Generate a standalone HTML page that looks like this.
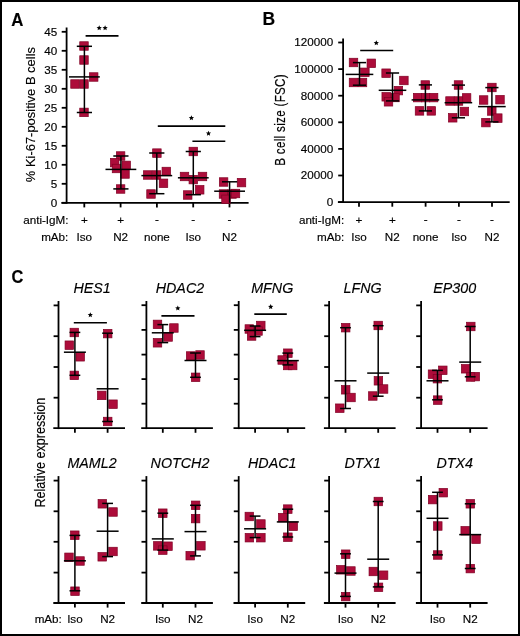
<!DOCTYPE html>
<html><head><meta charset="utf-8"><title>Figure</title>
<style>
html,body{margin:0;padding:0;background:#fff;}
body{width:520px;height:636px;overflow:hidden;}
.fig{position:relative;width:520px;height:636px;box-sizing:border-box;border:2px solid #000;background:#fff;}
svg{position:absolute;left:-2px;top:-2px;will-change:transform;}
text{font-family:"Liberation Sans", sans-serif;fill:#000;stroke:#000;stroke-width:0.15px;}
</style></head>
<body><div class="fig">
<svg width="520" height="636" viewBox="0 0 520 636">
<text transform="translate(11.20,25.50) scale(0.96,1.0)" font-size="17.5" text-anchor="start" font-weight="bold" font-style="normal">A</text>
<line x1="66.60" y1="27.50" x2="66.60" y2="203.70" stroke="#000" stroke-width="1.8"/>
<line x1="61.40" y1="202.80" x2="248.60" y2="202.80" stroke="#000" stroke-width="1.8"/>
<line x1="61.70" y1="202.80" x2="66.60" y2="202.80" stroke="#000" stroke-width="1.8"/>
<text transform="translate(57.20,206.60) scale(1.1,1.0)" font-size="10.6" text-anchor="end" font-weight="normal" font-style="normal">0</text>
<line x1="61.70" y1="183.80" x2="66.60" y2="183.80" stroke="#000" stroke-width="1.8"/>
<text transform="translate(57.20,187.60) scale(1.1,1.0)" font-size="10.6" text-anchor="end" font-weight="normal" font-style="normal">5</text>
<line x1="61.70" y1="164.80" x2="66.60" y2="164.80" stroke="#000" stroke-width="1.8"/>
<text transform="translate(57.20,168.60) scale(1.1,1.0)" font-size="10.6" text-anchor="end" font-weight="normal" font-style="normal">10</text>
<line x1="61.70" y1="145.80" x2="66.60" y2="145.80" stroke="#000" stroke-width="1.8"/>
<text transform="translate(57.20,149.60) scale(1.1,1.0)" font-size="10.6" text-anchor="end" font-weight="normal" font-style="normal">15</text>
<line x1="61.70" y1="126.80" x2="66.60" y2="126.80" stroke="#000" stroke-width="1.8"/>
<text transform="translate(57.20,130.60) scale(1.1,1.0)" font-size="10.6" text-anchor="end" font-weight="normal" font-style="normal">20</text>
<line x1="61.70" y1="107.80" x2="66.60" y2="107.80" stroke="#000" stroke-width="1.8"/>
<text transform="translate(57.20,111.60) scale(1.1,1.0)" font-size="10.6" text-anchor="end" font-weight="normal" font-style="normal">25</text>
<line x1="61.70" y1="88.80" x2="66.60" y2="88.80" stroke="#000" stroke-width="1.8"/>
<text transform="translate(57.20,92.60) scale(1.1,1.0)" font-size="10.6" text-anchor="end" font-weight="normal" font-style="normal">30</text>
<line x1="61.70" y1="69.80" x2="66.60" y2="69.80" stroke="#000" stroke-width="1.8"/>
<text transform="translate(57.20,73.60) scale(1.1,1.0)" font-size="10.6" text-anchor="end" font-weight="normal" font-style="normal">35</text>
<line x1="61.70" y1="50.80" x2="66.60" y2="50.80" stroke="#000" stroke-width="1.8"/>
<text transform="translate(57.20,54.60) scale(1.1,1.0)" font-size="10.6" text-anchor="end" font-weight="normal" font-style="normal">40</text>
<line x1="61.70" y1="31.80" x2="66.60" y2="31.80" stroke="#000" stroke-width="1.8"/>
<text transform="translate(57.20,35.60) scale(1.1,1.0)" font-size="10.6" text-anchor="end" font-weight="normal" font-style="normal">45</text>
<line x1="84.30" y1="202.80" x2="84.30" y2="207.40" stroke="#000" stroke-width="1.8"/>
<line x1="120.60" y1="202.80" x2="120.60" y2="207.40" stroke="#000" stroke-width="1.8"/>
<line x1="156.90" y1="202.80" x2="156.90" y2="207.40" stroke="#000" stroke-width="1.8"/>
<line x1="193.20" y1="202.80" x2="193.20" y2="207.40" stroke="#000" stroke-width="1.8"/>
<line x1="229.50" y1="202.80" x2="229.50" y2="207.40" stroke="#000" stroke-width="1.8"/>
<text transform="translate(34.90,114.60) rotate(-90) scale(1.0,1.0)" font-size="12.95" text-anchor="middle" font-weight="normal" font-style="normal">% Ki-67-positive B cells</text>
<text transform="translate(68.50,224.00) scale(1.1,1.0)" font-size="10.6" text-anchor="end" font-weight="normal" font-style="normal">anti-IgM:</text>
<text transform="translate(68.30,241.40) scale(1.1,1.0)" font-size="10.6" text-anchor="end" font-weight="normal" font-style="normal">mAb:</text>
<text transform="translate(84.30,224.00) scale(1.1,1.0)" font-size="10.6" text-anchor="middle" font-weight="normal" font-style="normal">+</text>
<text transform="translate(120.60,224.00) scale(1.1,1.0)" font-size="10.6" text-anchor="middle" font-weight="normal" font-style="normal">+</text>
<text transform="translate(156.90,222.80) scale(1.1,1.0)" font-size="10.6" text-anchor="middle" font-weight="normal" font-style="normal">-</text>
<text transform="translate(193.20,222.80) scale(1.1,1.0)" font-size="10.6" text-anchor="middle" font-weight="normal" font-style="normal">-</text>
<text transform="translate(229.50,222.80) scale(1.1,1.0)" font-size="10.6" text-anchor="middle" font-weight="normal" font-style="normal">-</text>
<text transform="translate(84.30,241.40) scale(1.1,1.0)" font-size="10.6" text-anchor="middle" font-weight="normal" font-style="normal">Iso</text>
<text transform="translate(120.60,241.40) scale(1.1,1.0)" font-size="10.6" text-anchor="middle" font-weight="normal" font-style="normal">N2</text>
<text transform="translate(156.90,241.40) scale(1.1,1.0)" font-size="10.6" text-anchor="middle" font-weight="normal" font-style="normal">none</text>
<text transform="translate(193.20,241.40) scale(1.1,1.0)" font-size="10.6" text-anchor="middle" font-weight="normal" font-style="normal">Iso</text>
<text transform="translate(229.50,241.40) scale(1.1,1.0)" font-size="10.6" text-anchor="middle" font-weight="normal" font-style="normal">N2</text>
<rect x="79.75" y="41.75" width="8.5" height="8.5" fill="#ad0c3a" stroke="#800024" stroke-width="0.7"/>
<rect x="79.75" y="55.75" width="8.5" height="8.5" fill="#ad0c3a" stroke="#800024" stroke-width="0.7"/>
<rect x="89.45" y="72.75" width="8.5" height="8.5" fill="#ad0c3a" stroke="#800024" stroke-width="0.7"/>
<rect x="70.75" y="79.75" width="8.5" height="8.5" fill="#ad0c3a" stroke="#800024" stroke-width="0.7"/>
<rect x="79.75" y="79.75" width="8.5" height="8.5" fill="#ad0c3a" stroke="#800024" stroke-width="0.7"/>
<rect x="79.75" y="108.15" width="8.5" height="8.5" fill="#ad0c3a" stroke="#800024" stroke-width="0.7"/>
<line x1="84.40" y1="46.30" x2="84.40" y2="112.50" stroke="#000" stroke-width="1.5"/>
<line x1="76.80" y1="46.30" x2="92.00" y2="46.30" stroke="#000" stroke-width="1.5"/>
<line x1="76.80" y1="112.50" x2="92.00" y2="112.50" stroke="#000" stroke-width="1.5"/>
<line x1="69.00" y1="76.90" x2="99.80" y2="76.90" stroke="#000" stroke-width="1.5"/>
<rect x="116.35" y="151.75" width="8.5" height="8.5" fill="#ad0c3a" stroke="#800024" stroke-width="0.7"/>
<rect x="110.45" y="158.35" width="8.5" height="8.5" fill="#ad0c3a" stroke="#800024" stroke-width="0.7"/>
<rect x="121.95" y="161.15" width="8.5" height="8.5" fill="#ad0c3a" stroke="#800024" stroke-width="0.7"/>
<rect x="112.25" y="164.25" width="8.5" height="8.5" fill="#ad0c3a" stroke="#800024" stroke-width="0.7"/>
<rect x="120.75" y="169.75" width="8.5" height="8.5" fill="#ad0c3a" stroke="#800024" stroke-width="0.7"/>
<rect x="116.35" y="184.75" width="8.5" height="8.5" fill="#ad0c3a" stroke="#800024" stroke-width="0.7"/>
<line x1="120.90" y1="156.00" x2="120.90" y2="188.90" stroke="#000" stroke-width="1.5"/>
<line x1="113.30" y1="156.00" x2="128.50" y2="156.00" stroke="#000" stroke-width="1.5"/>
<line x1="113.30" y1="188.90" x2="128.50" y2="188.90" stroke="#000" stroke-width="1.5"/>
<line x1="105.50" y1="169.40" x2="136.30" y2="169.40" stroke="#000" stroke-width="1.5"/>
<rect x="152.65" y="148.85" width="8.5" height="8.5" fill="#ad0c3a" stroke="#800024" stroke-width="0.7"/>
<rect x="162.05" y="167.25" width="8.5" height="8.5" fill="#ad0c3a" stroke="#800024" stroke-width="0.7"/>
<rect x="143.45" y="170.75" width="8.5" height="8.5" fill="#ad0c3a" stroke="#800024" stroke-width="0.7"/>
<rect x="152.25" y="170.75" width="8.5" height="8.5" fill="#ad0c3a" stroke="#800024" stroke-width="0.7"/>
<rect x="159.25" y="179.05" width="8.5" height="8.5" fill="#ad0c3a" stroke="#800024" stroke-width="0.7"/>
<rect x="146.75" y="189.75" width="8.5" height="8.5" fill="#ad0c3a" stroke="#800024" stroke-width="0.7"/>
<line x1="156.80" y1="153.00" x2="156.80" y2="193.70" stroke="#000" stroke-width="1.5"/>
<line x1="149.20" y1="153.00" x2="164.40" y2="153.00" stroke="#000" stroke-width="1.5"/>
<line x1="149.20" y1="193.70" x2="164.40" y2="193.70" stroke="#000" stroke-width="1.5"/>
<line x1="141.40" y1="175.60" x2="172.20" y2="175.60" stroke="#000" stroke-width="1.5"/>
<rect x="189.05" y="147.25" width="8.5" height="8.5" fill="#ad0c3a" stroke="#800024" stroke-width="0.7"/>
<rect x="180.25" y="172.25" width="8.5" height="8.5" fill="#ad0c3a" stroke="#800024" stroke-width="0.7"/>
<rect x="198.25" y="172.25" width="8.5" height="8.5" fill="#ad0c3a" stroke="#800024" stroke-width="0.7"/>
<rect x="189.05" y="175.35" width="8.5" height="8.5" fill="#ad0c3a" stroke="#800024" stroke-width="0.7"/>
<rect x="195.45" y="185.55" width="8.5" height="8.5" fill="#ad0c3a" stroke="#800024" stroke-width="0.7"/>
<rect x="183.45" y="190.75" width="8.5" height="8.5" fill="#ad0c3a" stroke="#800024" stroke-width="0.7"/>
<line x1="193.30" y1="151.50" x2="193.30" y2="194.70" stroke="#000" stroke-width="1.5"/>
<line x1="185.70" y1="151.50" x2="200.90" y2="151.50" stroke="#000" stroke-width="1.5"/>
<line x1="185.70" y1="194.70" x2="200.90" y2="194.70" stroke="#000" stroke-width="1.5"/>
<line x1="177.90" y1="177.80" x2="208.70" y2="177.80" stroke="#000" stroke-width="1.5"/>
<rect x="219.35" y="177.75" width="8.5" height="8.5" fill="#ad0c3a" stroke="#800024" stroke-width="0.7"/>
<rect x="237.25" y="178.35" width="8.5" height="8.5" fill="#ad0c3a" stroke="#800024" stroke-width="0.7"/>
<rect x="219.25" y="189.75" width="8.5" height="8.5" fill="#ad0c3a" stroke="#800024" stroke-width="0.7"/>
<rect x="227.75" y="189.75" width="8.5" height="8.5" fill="#ad0c3a" stroke="#800024" stroke-width="0.7"/>
<rect x="231.25" y="189.25" width="8.5" height="8.5" fill="#ad0c3a" stroke="#800024" stroke-width="0.7"/>
<rect x="221.75" y="195.05" width="8.5" height="8.5" fill="#ad0c3a" stroke="#800024" stroke-width="0.7"/>
<line x1="229.60" y1="181.80" x2="229.60" y2="202.80" stroke="#000" stroke-width="1.5"/>
<line x1="222.00" y1="181.80" x2="237.20" y2="181.80" stroke="#000" stroke-width="1.5"/>
<line x1="214.20" y1="191.20" x2="245.00" y2="191.20" stroke="#000" stroke-width="1.5"/>
<line x1="85.60" y1="35.90" x2="118.50" y2="35.90" stroke="#000" stroke-width="1.6"/>
<polygon points="99.20,25.31 99.94,27.04 101.82,27.21 100.40,28.45 100.82,30.29 99.20,29.33 97.58,30.29 98.00,28.45 96.58,27.21 98.46,27.04" fill="#000"/>
<polygon points="105.10,25.31 105.84,27.04 107.72,27.21 106.30,28.45 106.72,30.29 105.10,29.33 103.48,30.29 103.90,28.45 102.48,27.21 104.36,27.04" fill="#000"/>
<line x1="157.80" y1="126.10" x2="225.30" y2="126.10" stroke="#000" stroke-width="1.6"/>
<polygon points="191.40,115.31 192.14,117.04 194.02,117.21 192.60,118.45 193.02,120.29 191.40,119.33 189.78,120.29 190.20,118.45 188.78,117.21 190.66,117.04" fill="#000"/>
<line x1="192.40" y1="141.30" x2="225.30" y2="141.30" stroke="#000" stroke-width="1.6"/>
<polygon points="208.50,130.71 209.24,132.44 211.12,132.61 209.70,133.85 210.12,135.69 208.50,134.73 206.88,135.69 207.30,133.85 205.88,132.61 207.76,132.44" fill="#000"/>
<text transform="translate(262.50,25.30) scale(1.0,1.0)" font-size="17.5" text-anchor="start" font-weight="bold" font-style="normal">B</text>
<line x1="343.10" y1="38.50" x2="343.10" y2="203.00" stroke="#000" stroke-width="1.8"/>
<line x1="337.90" y1="202.10" x2="509.70" y2="202.10" stroke="#000" stroke-width="1.8"/>
<line x1="338.20" y1="202.10" x2="343.10" y2="202.10" stroke="#000" stroke-width="1.8"/>
<text transform="translate(333.20,205.90) scale(1.1,1.0)" font-size="10.6" text-anchor="end" font-weight="normal" font-style="normal">0</text>
<line x1="338.20" y1="175.50" x2="343.10" y2="175.50" stroke="#000" stroke-width="1.8"/>
<text transform="translate(333.20,179.30) scale(1.1,1.0)" font-size="10.6" text-anchor="end" font-weight="normal" font-style="normal">20000</text>
<line x1="338.20" y1="148.90" x2="343.10" y2="148.90" stroke="#000" stroke-width="1.8"/>
<text transform="translate(333.20,152.70) scale(1.1,1.0)" font-size="10.6" text-anchor="end" font-weight="normal" font-style="normal">40000</text>
<line x1="338.20" y1="122.30" x2="343.10" y2="122.30" stroke="#000" stroke-width="1.8"/>
<text transform="translate(333.20,126.10) scale(1.1,1.0)" font-size="10.6" text-anchor="end" font-weight="normal" font-style="normal">60000</text>
<line x1="338.20" y1="95.70" x2="343.10" y2="95.70" stroke="#000" stroke-width="1.8"/>
<text transform="translate(333.20,99.50) scale(1.1,1.0)" font-size="10.6" text-anchor="end" font-weight="normal" font-style="normal">80000</text>
<line x1="338.20" y1="69.10" x2="343.10" y2="69.10" stroke="#000" stroke-width="1.8"/>
<text transform="translate(333.20,72.90) scale(1.1,1.0)" font-size="10.6" text-anchor="end" font-weight="normal" font-style="normal">100000</text>
<line x1="338.20" y1="42.50" x2="343.10" y2="42.50" stroke="#000" stroke-width="1.8"/>
<text transform="translate(333.20,46.30) scale(1.1,1.0)" font-size="10.6" text-anchor="end" font-weight="normal" font-style="normal">120000</text>
<line x1="359.00" y1="202.10" x2="359.00" y2="206.70" stroke="#000" stroke-width="1.8"/>
<line x1="392.30" y1="202.10" x2="392.30" y2="206.70" stroke="#000" stroke-width="1.8"/>
<line x1="425.60" y1="202.10" x2="425.60" y2="206.70" stroke="#000" stroke-width="1.8"/>
<line x1="458.90" y1="202.10" x2="458.90" y2="206.70" stroke="#000" stroke-width="1.8"/>
<line x1="492.00" y1="202.10" x2="492.00" y2="206.70" stroke="#000" stroke-width="1.8"/>
<text transform="translate(285.00,119.90) rotate(-90) scale(1.0,1.25)" font-size="11.6" text-anchor="middle" font-weight="normal" font-style="normal" letter-spacing="0.32">B cell size (FSC)</text>
<text transform="translate(344.20,224.00) scale(1.1,1.0)" font-size="10.6" text-anchor="end" font-weight="normal" font-style="normal">anti-IgM:</text>
<text transform="translate(344.20,241.40) scale(1.1,1.0)" font-size="10.6" text-anchor="end" font-weight="normal" font-style="normal">mAb:</text>
<text transform="translate(359.00,224.00) scale(1.1,1.0)" font-size="10.6" text-anchor="middle" font-weight="normal" font-style="normal">+</text>
<text transform="translate(392.30,224.00) scale(1.1,1.0)" font-size="10.6" text-anchor="middle" font-weight="normal" font-style="normal">+</text>
<text transform="translate(425.60,222.80) scale(1.1,1.0)" font-size="10.6" text-anchor="middle" font-weight="normal" font-style="normal">-</text>
<text transform="translate(458.90,222.80) scale(1.1,1.0)" font-size="10.6" text-anchor="middle" font-weight="normal" font-style="normal">-</text>
<text transform="translate(492.00,222.80) scale(1.1,1.0)" font-size="10.6" text-anchor="middle" font-weight="normal" font-style="normal">-</text>
<text transform="translate(359.00,241.40) scale(1.1,1.0)" font-size="10.6" text-anchor="middle" font-weight="normal" font-style="normal">Iso</text>
<text transform="translate(392.30,241.40) scale(1.1,1.0)" font-size="10.6" text-anchor="middle" font-weight="normal" font-style="normal">N2</text>
<text transform="translate(425.60,241.40) scale(1.1,1.0)" font-size="10.6" text-anchor="middle" font-weight="normal" font-style="normal">none</text>
<text transform="translate(458.90,241.40) scale(1.1,1.0)" font-size="10.6" text-anchor="middle" font-weight="normal" font-style="normal">Iso</text>
<text transform="translate(492.00,241.40) scale(1.1,1.0)" font-size="10.6" text-anchor="middle" font-weight="normal" font-style="normal">N2</text>
<rect x="349.25" y="58.25" width="8.5" height="8.5" fill="#ad0c3a" stroke="#800024" stroke-width="0.7"/>
<rect x="367.05" y="59.05" width="8.5" height="8.5" fill="#ad0c3a" stroke="#800024" stroke-width="0.7"/>
<rect x="360.65" y="68.05" width="8.5" height="8.5" fill="#ad0c3a" stroke="#800024" stroke-width="0.7"/>
<rect x="349.25" y="78.25" width="8.5" height="8.5" fill="#ad0c3a" stroke="#800024" stroke-width="0.7"/>
<rect x="358.25" y="78.25" width="8.5" height="8.5" fill="#ad0c3a" stroke="#800024" stroke-width="0.7"/>
<line x1="359.50" y1="62.60" x2="359.50" y2="85.20" stroke="#000" stroke-width="1.5"/>
<line x1="352.90" y1="62.60" x2="366.10" y2="62.60" stroke="#000" stroke-width="1.5"/>
<line x1="352.90" y1="85.20" x2="366.10" y2="85.20" stroke="#000" stroke-width="1.5"/>
<line x1="345.70" y1="74.40" x2="373.30" y2="74.40" stroke="#000" stroke-width="1.5"/>
<rect x="381.85" y="68.95" width="8.5" height="8.5" fill="#ad0c3a" stroke="#800024" stroke-width="0.7"/>
<rect x="399.65" y="76.25" width="8.5" height="8.5" fill="#ad0c3a" stroke="#800024" stroke-width="0.7"/>
<rect x="394.15" y="86.35" width="8.5" height="8.5" fill="#ad0c3a" stroke="#800024" stroke-width="0.7"/>
<rect x="381.95" y="92.55" width="8.5" height="8.5" fill="#ad0c3a" stroke="#800024" stroke-width="0.7"/>
<rect x="390.75" y="93.25" width="8.5" height="8.5" fill="#ad0c3a" stroke="#800024" stroke-width="0.7"/>
<rect x="384.25" y="97.55" width="8.5" height="8.5" fill="#ad0c3a" stroke="#800024" stroke-width="0.7"/>
<line x1="392.50" y1="73.00" x2="392.50" y2="100.90" stroke="#000" stroke-width="1.5"/>
<line x1="385.90" y1="73.00" x2="399.10" y2="73.00" stroke="#000" stroke-width="1.5"/>
<line x1="385.90" y1="100.90" x2="399.10" y2="100.90" stroke="#000" stroke-width="1.5"/>
<line x1="378.70" y1="90.30" x2="406.30" y2="90.30" stroke="#000" stroke-width="1.5"/>
<rect x="421.05" y="80.75" width="8.5" height="8.5" fill="#ad0c3a" stroke="#800024" stroke-width="0.7"/>
<rect x="413.35" y="93.35" width="8.5" height="8.5" fill="#ad0c3a" stroke="#800024" stroke-width="0.7"/>
<rect x="421.35" y="93.35" width="8.5" height="8.5" fill="#ad0c3a" stroke="#800024" stroke-width="0.7"/>
<rect x="429.35" y="93.35" width="8.5" height="8.5" fill="#ad0c3a" stroke="#800024" stroke-width="0.7"/>
<rect x="415.25" y="106.65" width="8.5" height="8.5" fill="#ad0c3a" stroke="#800024" stroke-width="0.7"/>
<rect x="427.05" y="106.65" width="8.5" height="8.5" fill="#ad0c3a" stroke="#800024" stroke-width="0.7"/>
<line x1="425.40" y1="84.90" x2="425.40" y2="110.90" stroke="#000" stroke-width="1.5"/>
<line x1="418.80" y1="84.90" x2="432.00" y2="84.90" stroke="#000" stroke-width="1.5"/>
<line x1="418.80" y1="110.90" x2="432.00" y2="110.90" stroke="#000" stroke-width="1.5"/>
<line x1="411.60" y1="99.90" x2="439.20" y2="99.90" stroke="#000" stroke-width="1.5"/>
<rect x="454.25" y="80.75" width="8.5" height="8.5" fill="#ad0c3a" stroke="#800024" stroke-width="0.7"/>
<rect x="462.35" y="93.65" width="8.5" height="8.5" fill="#ad0c3a" stroke="#800024" stroke-width="0.7"/>
<rect x="445.75" y="96.75" width="8.5" height="8.5" fill="#ad0c3a" stroke="#800024" stroke-width="0.7"/>
<rect x="454.25" y="96.75" width="8.5" height="8.5" fill="#ad0c3a" stroke="#800024" stroke-width="0.7"/>
<rect x="460.15" y="107.25" width="8.5" height="8.5" fill="#ad0c3a" stroke="#800024" stroke-width="0.7"/>
<rect x="448.45" y="113.55" width="8.5" height="8.5" fill="#ad0c3a" stroke="#800024" stroke-width="0.7"/>
<line x1="458.40" y1="85.10" x2="458.40" y2="117.80" stroke="#000" stroke-width="1.5"/>
<line x1="451.80" y1="85.10" x2="465.00" y2="85.10" stroke="#000" stroke-width="1.5"/>
<line x1="451.80" y1="117.80" x2="465.00" y2="117.80" stroke="#000" stroke-width="1.5"/>
<line x1="444.60" y1="102.70" x2="472.20" y2="102.70" stroke="#000" stroke-width="1.5"/>
<rect x="487.65" y="83.25" width="8.5" height="8.5" fill="#ad0c3a" stroke="#800024" stroke-width="0.7"/>
<rect x="479.35" y="95.75" width="8.5" height="8.5" fill="#ad0c3a" stroke="#800024" stroke-width="0.7"/>
<rect x="495.75" y="95.45" width="8.5" height="8.5" fill="#ad0c3a" stroke="#800024" stroke-width="0.7"/>
<rect x="487.55" y="106.75" width="8.5" height="8.5" fill="#ad0c3a" stroke="#800024" stroke-width="0.7"/>
<rect x="493.55" y="113.85" width="8.5" height="8.5" fill="#ad0c3a" stroke="#800024" stroke-width="0.7"/>
<rect x="481.65" y="118.35" width="8.5" height="8.5" fill="#ad0c3a" stroke="#800024" stroke-width="0.7"/>
<line x1="491.90" y1="87.60" x2="491.90" y2="121.90" stroke="#000" stroke-width="1.5"/>
<line x1="485.30" y1="87.60" x2="498.50" y2="87.60" stroke="#000" stroke-width="1.5"/>
<line x1="485.30" y1="121.90" x2="498.50" y2="121.90" stroke="#000" stroke-width="1.5"/>
<line x1="478.10" y1="106.60" x2="505.70" y2="106.60" stroke="#000" stroke-width="1.5"/>
<line x1="360.20" y1="50.50" x2="393.20" y2="50.50" stroke="#000" stroke-width="1.6"/>
<polygon points="376.30,40.31 377.04,42.04 378.92,42.21 377.50,43.45 377.92,45.29 376.30,44.33 374.68,45.29 375.10,43.45 373.68,42.21 375.56,42.04" fill="#000"/>
<text transform="translate(11.50,283.40) scale(0.9,1.0)" font-size="18.2" text-anchor="start" font-weight="bold" font-style="normal">C</text>
<text transform="translate(45.30,452.60) rotate(-90) scale(1.0,1.1)" font-size="12.6" text-anchor="middle" font-weight="normal" font-style="normal">Relative expression</text>
<line x1="58.50" y1="301.00" x2="58.50" y2="429.10" stroke="#000" stroke-width="1.8"/>
<line x1="53.30" y1="428.20" x2="125.00" y2="428.20" stroke="#000" stroke-width="1.8"/>
<line x1="53.60" y1="305.40" x2="58.50" y2="305.40" stroke="#000" stroke-width="1.8"/>
<line x1="53.60" y1="336.20" x2="58.50" y2="336.20" stroke="#000" stroke-width="1.8"/>
<line x1="53.60" y1="367.00" x2="58.50" y2="367.00" stroke="#000" stroke-width="1.8"/>
<line x1="53.60" y1="397.70" x2="58.50" y2="397.70" stroke="#000" stroke-width="1.8"/>
<line x1="74.90" y1="428.20" x2="74.90" y2="432.80" stroke="#000" stroke-width="1.8"/>
<line x1="107.60" y1="428.20" x2="107.60" y2="432.80" stroke="#000" stroke-width="1.8"/>
<text transform="translate(92.05,293.00) scale(1.0,1.0)" font-size="14.3" text-anchor="middle" font-weight="normal" font-style="italic">HES1</text>
<rect x="70.05" y="328.25" width="8.5" height="8.5" fill="#ad0c3a" stroke="#800024" stroke-width="0.7"/>
<rect x="65.05" y="340.95" width="8.5" height="8.5" fill="#ad0c3a" stroke="#800024" stroke-width="0.7"/>
<rect x="75.95" y="352.55" width="8.5" height="8.5" fill="#ad0c3a" stroke="#800024" stroke-width="0.7"/>
<rect x="70.05" y="371.15" width="8.5" height="8.5" fill="#ad0c3a" stroke="#800024" stroke-width="0.7"/>
<rect x="103.45" y="329.35" width="8.5" height="8.5" fill="#ad0c3a" stroke="#800024" stroke-width="0.7"/>
<rect x="97.55" y="391.15" width="8.5" height="8.5" fill="#ad0c3a" stroke="#800024" stroke-width="0.7"/>
<rect x="108.75" y="399.95" width="8.5" height="8.5" fill="#ad0c3a" stroke="#800024" stroke-width="0.7"/>
<rect x="103.45" y="417.25" width="8.5" height="8.5" fill="#ad0c3a" stroke="#800024" stroke-width="0.7"/>
<line x1="74.90" y1="332.40" x2="74.90" y2="375.30" stroke="#000" stroke-width="1.5"/>
<line x1="69.50" y1="332.40" x2="80.30" y2="332.40" stroke="#000" stroke-width="1.5"/>
<line x1="69.50" y1="375.30" x2="80.30" y2="375.30" stroke="#000" stroke-width="1.5"/>
<line x1="63.90" y1="352.20" x2="85.90" y2="352.20" stroke="#000" stroke-width="1.5"/>
<line x1="107.60" y1="333.20" x2="107.60" y2="421.50" stroke="#000" stroke-width="1.5"/>
<line x1="102.20" y1="333.20" x2="113.00" y2="333.20" stroke="#000" stroke-width="1.5"/>
<line x1="102.20" y1="421.50" x2="113.00" y2="421.50" stroke="#000" stroke-width="1.5"/>
<line x1="96.60" y1="388.80" x2="118.60" y2="388.80" stroke="#000" stroke-width="1.5"/>
<line x1="73.80" y1="322.70" x2="106.90" y2="322.70" stroke="#000" stroke-width="1.6"/>
<polygon points="90.30,312.21 91.04,313.94 92.92,314.11 91.50,315.35 91.92,317.19 90.30,316.23 88.68,317.19 89.10,315.35 87.68,314.11 89.56,313.94" fill="#000"/>
<line x1="146.40" y1="301.00" x2="146.40" y2="429.10" stroke="#000" stroke-width="1.8"/>
<line x1="141.20" y1="428.20" x2="212.90" y2="428.20" stroke="#000" stroke-width="1.8"/>
<line x1="141.50" y1="305.20" x2="146.40" y2="305.20" stroke="#000" stroke-width="1.8"/>
<line x1="141.50" y1="329.90" x2="146.40" y2="329.90" stroke="#000" stroke-width="1.8"/>
<line x1="141.50" y1="354.60" x2="146.40" y2="354.60" stroke="#000" stroke-width="1.8"/>
<line x1="141.50" y1="379.10" x2="146.40" y2="379.10" stroke="#000" stroke-width="1.8"/>
<line x1="141.50" y1="403.70" x2="146.40" y2="403.70" stroke="#000" stroke-width="1.8"/>
<line x1="162.80" y1="428.20" x2="162.80" y2="432.80" stroke="#000" stroke-width="1.8"/>
<line x1="195.50" y1="428.20" x2="195.50" y2="432.80" stroke="#000" stroke-width="1.8"/>
<text transform="translate(179.95,293.00) scale(1.0,1.0)" font-size="14.3" text-anchor="middle" font-weight="normal" font-style="italic">HDAC2</text>
<rect x="153.25" y="320.15" width="8.5" height="8.5" fill="#ad0c3a" stroke="#800024" stroke-width="0.7"/>
<rect x="169.65" y="323.75" width="8.5" height="8.5" fill="#ad0c3a" stroke="#800024" stroke-width="0.7"/>
<rect x="163.85" y="332.75" width="8.5" height="8.5" fill="#ad0c3a" stroke="#800024" stroke-width="0.7"/>
<rect x="153.25" y="338.55" width="8.5" height="8.5" fill="#ad0c3a" stroke="#800024" stroke-width="0.7"/>
<rect x="186.35" y="351.75" width="8.5" height="8.5" fill="#ad0c3a" stroke="#800024" stroke-width="0.7"/>
<rect x="195.75" y="350.75" width="8.5" height="8.5" fill="#ad0c3a" stroke="#800024" stroke-width="0.7"/>
<rect x="191.35" y="373.05" width="8.5" height="8.5" fill="#ad0c3a" stroke="#800024" stroke-width="0.7"/>
<line x1="162.80" y1="324.60" x2="162.80" y2="342.60" stroke="#000" stroke-width="1.5"/>
<line x1="157.40" y1="324.60" x2="168.20" y2="324.60" stroke="#000" stroke-width="1.5"/>
<line x1="157.40" y1="342.60" x2="168.20" y2="342.60" stroke="#000" stroke-width="1.5"/>
<line x1="151.80" y1="332.80" x2="173.80" y2="332.80" stroke="#000" stroke-width="1.5"/>
<line x1="195.50" y1="353.00" x2="195.50" y2="377.30" stroke="#000" stroke-width="1.5"/>
<line x1="190.10" y1="353.00" x2="200.90" y2="353.00" stroke="#000" stroke-width="1.5"/>
<line x1="190.10" y1="377.30" x2="200.90" y2="377.30" stroke="#000" stroke-width="1.5"/>
<line x1="184.50" y1="360.50" x2="206.50" y2="360.50" stroke="#000" stroke-width="1.5"/>
<line x1="161.40" y1="315.90" x2="194.50" y2="315.90" stroke="#000" stroke-width="1.6"/>
<polygon points="177.80,305.51 178.54,307.24 180.42,307.41 179.00,308.65 179.42,310.49 177.80,309.53 176.18,310.49 176.60,308.65 175.18,307.41 177.06,307.24" fill="#000"/>
<line x1="238.70" y1="301.00" x2="238.70" y2="429.10" stroke="#000" stroke-width="1.8"/>
<line x1="233.50" y1="428.20" x2="305.20" y2="428.20" stroke="#000" stroke-width="1.8"/>
<line x1="233.80" y1="305.20" x2="238.70" y2="305.20" stroke="#000" stroke-width="1.8"/>
<line x1="233.80" y1="329.90" x2="238.70" y2="329.90" stroke="#000" stroke-width="1.8"/>
<line x1="233.80" y1="354.60" x2="238.70" y2="354.60" stroke="#000" stroke-width="1.8"/>
<line x1="233.80" y1="379.10" x2="238.70" y2="379.10" stroke="#000" stroke-width="1.8"/>
<line x1="233.80" y1="403.70" x2="238.70" y2="403.70" stroke="#000" stroke-width="1.8"/>
<line x1="255.10" y1="428.20" x2="255.10" y2="432.80" stroke="#000" stroke-width="1.8"/>
<line x1="287.80" y1="428.20" x2="287.80" y2="432.80" stroke="#000" stroke-width="1.8"/>
<text transform="translate(272.25,293.00) scale(1.0,1.0)" font-size="14.3" text-anchor="middle" font-weight="normal" font-style="italic">MFNG</text>
<rect x="256.55" y="321.25" width="8.5" height="8.5" fill="#ad0c3a" stroke="#800024" stroke-width="0.7"/>
<rect x="253.75" y="326.75" width="8.5" height="8.5" fill="#ad0c3a" stroke="#800024" stroke-width="0.7"/>
<rect x="245.05" y="324.75" width="8.5" height="8.5" fill="#ad0c3a" stroke="#800024" stroke-width="0.7"/>
<rect x="247.35" y="331.75" width="8.5" height="8.5" fill="#ad0c3a" stroke="#800024" stroke-width="0.7"/>
<rect x="283.65" y="348.95" width="8.5" height="8.5" fill="#ad0c3a" stroke="#800024" stroke-width="0.7"/>
<rect x="277.95" y="355.75" width="8.5" height="8.5" fill="#ad0c3a" stroke="#800024" stroke-width="0.7"/>
<rect x="283.45" y="361.25" width="8.5" height="8.5" fill="#ad0c3a" stroke="#800024" stroke-width="0.7"/>
<rect x="288.45" y="361.25" width="8.5" height="8.5" fill="#ad0c3a" stroke="#800024" stroke-width="0.7"/>
<line x1="255.10" y1="326.00" x2="255.10" y2="336.60" stroke="#000" stroke-width="1.5"/>
<line x1="249.70" y1="326.00" x2="260.50" y2="326.00" stroke="#000" stroke-width="1.5"/>
<line x1="249.70" y1="336.60" x2="260.50" y2="336.60" stroke="#000" stroke-width="1.5"/>
<line x1="244.10" y1="330.30" x2="266.10" y2="330.30" stroke="#000" stroke-width="1.5"/>
<line x1="287.80" y1="353.10" x2="287.80" y2="364.90" stroke="#000" stroke-width="1.5"/>
<line x1="282.40" y1="353.10" x2="293.20" y2="353.10" stroke="#000" stroke-width="1.5"/>
<line x1="282.40" y1="364.90" x2="293.20" y2="364.90" stroke="#000" stroke-width="1.5"/>
<line x1="276.80" y1="360.60" x2="298.80" y2="360.60" stroke="#000" stroke-width="1.5"/>
<line x1="254.30" y1="314.10" x2="286.80" y2="314.10" stroke="#000" stroke-width="1.6"/>
<polygon points="270.70,304.11 271.44,305.84 273.32,306.01 271.90,307.25 272.32,309.09 270.70,308.13 269.08,309.09 269.50,307.25 268.08,306.01 269.96,305.84" fill="#000"/>
<line x1="329.10" y1="301.00" x2="329.10" y2="429.10" stroke="#000" stroke-width="1.8"/>
<line x1="323.90" y1="428.20" x2="395.60" y2="428.20" stroke="#000" stroke-width="1.8"/>
<line x1="324.20" y1="305.40" x2="329.10" y2="305.40" stroke="#000" stroke-width="1.8"/>
<line x1="324.20" y1="336.20" x2="329.10" y2="336.20" stroke="#000" stroke-width="1.8"/>
<line x1="324.20" y1="367.00" x2="329.10" y2="367.00" stroke="#000" stroke-width="1.8"/>
<line x1="324.20" y1="397.70" x2="329.10" y2="397.70" stroke="#000" stroke-width="1.8"/>
<line x1="345.50" y1="428.20" x2="345.50" y2="432.80" stroke="#000" stroke-width="1.8"/>
<line x1="378.20" y1="428.20" x2="378.20" y2="432.80" stroke="#000" stroke-width="1.8"/>
<text transform="translate(362.65,293.00) scale(1.0,1.0)" font-size="14.3" text-anchor="middle" font-weight="normal" font-style="italic">LFNG</text>
<rect x="341.45" y="323.45" width="8.5" height="8.5" fill="#ad0c3a" stroke="#800024" stroke-width="0.7"/>
<rect x="341.45" y="385.55" width="8.5" height="8.5" fill="#ad0c3a" stroke="#800024" stroke-width="0.7"/>
<rect x="346.75" y="393.25" width="8.5" height="8.5" fill="#ad0c3a" stroke="#800024" stroke-width="0.7"/>
<rect x="335.55" y="403.95" width="8.5" height="8.5" fill="#ad0c3a" stroke="#800024" stroke-width="0.7"/>
<rect x="373.95" y="321.25" width="8.5" height="8.5" fill="#ad0c3a" stroke="#800024" stroke-width="0.7"/>
<rect x="374.15" y="376.55" width="8.5" height="8.5" fill="#ad0c3a" stroke="#800024" stroke-width="0.7"/>
<rect x="379.35" y="384.75" width="8.5" height="8.5" fill="#ad0c3a" stroke="#800024" stroke-width="0.7"/>
<rect x="368.55" y="391.75" width="8.5" height="8.5" fill="#ad0c3a" stroke="#800024" stroke-width="0.7"/>
<line x1="345.50" y1="327.70" x2="345.50" y2="408.50" stroke="#000" stroke-width="1.5"/>
<line x1="340.10" y1="327.70" x2="350.90" y2="327.70" stroke="#000" stroke-width="1.5"/>
<line x1="340.10" y1="408.50" x2="350.90" y2="408.50" stroke="#000" stroke-width="1.5"/>
<line x1="334.50" y1="380.80" x2="356.50" y2="380.80" stroke="#000" stroke-width="1.5"/>
<line x1="378.20" y1="325.70" x2="378.20" y2="396.20" stroke="#000" stroke-width="1.5"/>
<line x1="372.80" y1="325.70" x2="383.60" y2="325.70" stroke="#000" stroke-width="1.5"/>
<line x1="372.80" y1="396.20" x2="383.60" y2="396.20" stroke="#000" stroke-width="1.5"/>
<line x1="367.20" y1="373.10" x2="389.20" y2="373.10" stroke="#000" stroke-width="1.5"/>
<line x1="421.10" y1="301.00" x2="421.10" y2="429.10" stroke="#000" stroke-width="1.8"/>
<line x1="415.90" y1="428.20" x2="487.60" y2="428.20" stroke="#000" stroke-width="1.8"/>
<line x1="416.20" y1="305.40" x2="421.10" y2="305.40" stroke="#000" stroke-width="1.8"/>
<line x1="416.20" y1="336.20" x2="421.10" y2="336.20" stroke="#000" stroke-width="1.8"/>
<line x1="416.20" y1="367.00" x2="421.10" y2="367.00" stroke="#000" stroke-width="1.8"/>
<line x1="416.20" y1="397.70" x2="421.10" y2="397.70" stroke="#000" stroke-width="1.8"/>
<line x1="437.50" y1="428.20" x2="437.50" y2="432.80" stroke="#000" stroke-width="1.8"/>
<line x1="470.20" y1="428.20" x2="470.20" y2="432.80" stroke="#000" stroke-width="1.8"/>
<text transform="translate(454.65,293.00) scale(1.0,1.0)" font-size="14.3" text-anchor="middle" font-weight="normal" font-style="italic">EP300</text>
<rect x="438.55" y="366.05" width="8.5" height="8.5" fill="#ad0c3a" stroke="#800024" stroke-width="0.7"/>
<rect x="428.25" y="369.95" width="8.5" height="8.5" fill="#ad0c3a" stroke="#800024" stroke-width="0.7"/>
<rect x="433.15" y="374.45" width="8.5" height="8.5" fill="#ad0c3a" stroke="#800024" stroke-width="0.7"/>
<rect x="433.45" y="395.85" width="8.5" height="8.5" fill="#ad0c3a" stroke="#800024" stroke-width="0.7"/>
<rect x="466.55" y="322.25" width="8.5" height="8.5" fill="#ad0c3a" stroke="#800024" stroke-width="0.7"/>
<rect x="461.35" y="364.55" width="8.5" height="8.5" fill="#ad0c3a" stroke="#800024" stroke-width="0.7"/>
<rect x="471.05" y="372.35" width="8.5" height="8.5" fill="#ad0c3a" stroke="#800024" stroke-width="0.7"/>
<rect x="466.25" y="372.75" width="8.5" height="8.5" fill="#ad0c3a" stroke="#800024" stroke-width="0.7"/>
<line x1="437.50" y1="370.40" x2="437.50" y2="399.80" stroke="#000" stroke-width="1.5"/>
<line x1="432.10" y1="370.40" x2="442.90" y2="370.40" stroke="#000" stroke-width="1.5"/>
<line x1="432.10" y1="399.80" x2="442.90" y2="399.80" stroke="#000" stroke-width="1.5"/>
<line x1="426.50" y1="380.80" x2="448.50" y2="380.80" stroke="#000" stroke-width="1.5"/>
<line x1="470.20" y1="326.50" x2="470.20" y2="376.80" stroke="#000" stroke-width="1.5"/>
<line x1="464.80" y1="326.50" x2="475.60" y2="326.50" stroke="#000" stroke-width="1.5"/>
<line x1="464.80" y1="376.80" x2="475.60" y2="376.80" stroke="#000" stroke-width="1.5"/>
<line x1="459.20" y1="362.10" x2="481.20" y2="362.10" stroke="#000" stroke-width="1.5"/>
<line x1="58.50" y1="476.10" x2="58.50" y2="603.90" stroke="#000" stroke-width="1.8"/>
<line x1="53.30" y1="603.00" x2="125.00" y2="603.00" stroke="#000" stroke-width="1.8"/>
<line x1="53.60" y1="480.60" x2="58.50" y2="480.60" stroke="#000" stroke-width="1.8"/>
<line x1="53.60" y1="511.30" x2="58.50" y2="511.30" stroke="#000" stroke-width="1.8"/>
<line x1="53.60" y1="541.80" x2="58.50" y2="541.80" stroke="#000" stroke-width="1.8"/>
<line x1="53.60" y1="572.60" x2="58.50" y2="572.60" stroke="#000" stroke-width="1.8"/>
<line x1="74.90" y1="603.00" x2="74.90" y2="607.60" stroke="#000" stroke-width="1.8"/>
<line x1="107.60" y1="603.00" x2="107.60" y2="607.60" stroke="#000" stroke-width="1.8"/>
<text transform="translate(92.05,468.00) scale(1.0,1.0)" font-size="14.3" text-anchor="middle" font-weight="normal" font-style="italic">MAML2</text>
<rect x="70.55" y="530.95" width="8.5" height="8.5" fill="#ad0c3a" stroke="#800024" stroke-width="0.7"/>
<rect x="64.75" y="553.05" width="8.5" height="8.5" fill="#ad0c3a" stroke="#800024" stroke-width="0.7"/>
<rect x="75.75" y="556.75" width="8.5" height="8.5" fill="#ad0c3a" stroke="#800024" stroke-width="0.7"/>
<rect x="70.75" y="586.95" width="8.5" height="8.5" fill="#ad0c3a" stroke="#800024" stroke-width="0.7"/>
<rect x="98.05" y="499.55" width="8.5" height="8.5" fill="#ad0c3a" stroke="#800024" stroke-width="0.7"/>
<rect x="108.75" y="507.75" width="8.5" height="8.5" fill="#ad0c3a" stroke="#800024" stroke-width="0.7"/>
<rect x="108.75" y="547.25" width="8.5" height="8.5" fill="#ad0c3a" stroke="#800024" stroke-width="0.7"/>
<rect x="97.95" y="552.55" width="8.5" height="8.5" fill="#ad0c3a" stroke="#800024" stroke-width="0.7"/>
<line x1="74.90" y1="535.40" x2="74.90" y2="590.80" stroke="#000" stroke-width="1.5"/>
<line x1="69.50" y1="535.40" x2="80.30" y2="535.40" stroke="#000" stroke-width="1.5"/>
<line x1="69.50" y1="590.80" x2="80.30" y2="590.80" stroke="#000" stroke-width="1.5"/>
<line x1="63.90" y1="560.80" x2="85.90" y2="560.80" stroke="#000" stroke-width="1.5"/>
<line x1="107.60" y1="503.40" x2="107.60" y2="556.60" stroke="#000" stroke-width="1.5"/>
<line x1="102.20" y1="503.40" x2="113.00" y2="503.40" stroke="#000" stroke-width="1.5"/>
<line x1="102.20" y1="556.60" x2="113.00" y2="556.60" stroke="#000" stroke-width="1.5"/>
<line x1="96.60" y1="531.20" x2="118.60" y2="531.20" stroke="#000" stroke-width="1.5"/>
<text transform="translate(74.90,622.70) scale(1.1,1.0)" font-size="10.6" text-anchor="middle" font-weight="normal" font-style="normal">Iso</text>
<text transform="translate(107.60,622.70) scale(1.1,1.0)" font-size="10.6" text-anchor="middle" font-weight="normal" font-style="normal">N2</text>
<line x1="146.40" y1="476.10" x2="146.40" y2="603.90" stroke="#000" stroke-width="1.8"/>
<line x1="141.20" y1="603.00" x2="212.90" y2="603.00" stroke="#000" stroke-width="1.8"/>
<line x1="141.50" y1="480.60" x2="146.40" y2="480.60" stroke="#000" stroke-width="1.8"/>
<line x1="141.50" y1="511.30" x2="146.40" y2="511.30" stroke="#000" stroke-width="1.8"/>
<line x1="141.50" y1="541.80" x2="146.40" y2="541.80" stroke="#000" stroke-width="1.8"/>
<line x1="141.50" y1="572.60" x2="146.40" y2="572.60" stroke="#000" stroke-width="1.8"/>
<line x1="162.80" y1="603.00" x2="162.80" y2="607.60" stroke="#000" stroke-width="1.8"/>
<line x1="195.50" y1="603.00" x2="195.50" y2="607.60" stroke="#000" stroke-width="1.8"/>
<text transform="translate(179.95,468.00) scale(1.0,1.0)" font-size="14.3" text-anchor="middle" font-weight="normal" font-style="italic">NOTCH2</text>
<rect x="158.55" y="508.95" width="8.5" height="8.5" fill="#ad0c3a" stroke="#800024" stroke-width="0.7"/>
<rect x="153.55" y="541.65" width="8.5" height="8.5" fill="#ad0c3a" stroke="#800024" stroke-width="0.7"/>
<rect x="163.75" y="541.95" width="8.5" height="8.5" fill="#ad0c3a" stroke="#800024" stroke-width="0.7"/>
<rect x="158.55" y="545.85" width="8.5" height="8.5" fill="#ad0c3a" stroke="#800024" stroke-width="0.7"/>
<rect x="191.35" y="501.05" width="8.5" height="8.5" fill="#ad0c3a" stroke="#800024" stroke-width="0.7"/>
<rect x="191.35" y="514.35" width="8.5" height="8.5" fill="#ad0c3a" stroke="#800024" stroke-width="0.7"/>
<rect x="196.65" y="541.55" width="8.5" height="8.5" fill="#ad0c3a" stroke="#800024" stroke-width="0.7"/>
<rect x="185.95" y="551.45" width="8.5" height="8.5" fill="#ad0c3a" stroke="#800024" stroke-width="0.7"/>
<line x1="162.80" y1="513.20" x2="162.80" y2="550.10" stroke="#000" stroke-width="1.5"/>
<line x1="157.40" y1="513.20" x2="168.20" y2="513.20" stroke="#000" stroke-width="1.5"/>
<line x1="157.40" y1="550.10" x2="168.20" y2="550.10" stroke="#000" stroke-width="1.5"/>
<line x1="151.80" y1="538.90" x2="173.80" y2="538.90" stroke="#000" stroke-width="1.5"/>
<line x1="195.50" y1="505.30" x2="195.50" y2="555.90" stroke="#000" stroke-width="1.5"/>
<line x1="190.10" y1="505.30" x2="200.90" y2="505.30" stroke="#000" stroke-width="1.5"/>
<line x1="190.10" y1="555.90" x2="200.90" y2="555.90" stroke="#000" stroke-width="1.5"/>
<line x1="184.50" y1="531.60" x2="206.50" y2="531.60" stroke="#000" stroke-width="1.5"/>
<text transform="translate(162.80,622.70) scale(1.1,1.0)" font-size="10.6" text-anchor="middle" font-weight="normal" font-style="normal">Iso</text>
<text transform="translate(195.50,622.70) scale(1.1,1.0)" font-size="10.6" text-anchor="middle" font-weight="normal" font-style="normal">N2</text>
<line x1="238.70" y1="476.10" x2="238.70" y2="603.90" stroke="#000" stroke-width="1.8"/>
<line x1="233.50" y1="603.00" x2="305.20" y2="603.00" stroke="#000" stroke-width="1.8"/>
<line x1="233.80" y1="480.60" x2="238.70" y2="480.60" stroke="#000" stroke-width="1.8"/>
<line x1="233.80" y1="511.30" x2="238.70" y2="511.30" stroke="#000" stroke-width="1.8"/>
<line x1="233.80" y1="541.80" x2="238.70" y2="541.80" stroke="#000" stroke-width="1.8"/>
<line x1="233.80" y1="572.60" x2="238.70" y2="572.60" stroke="#000" stroke-width="1.8"/>
<line x1="255.10" y1="603.00" x2="255.10" y2="607.60" stroke="#000" stroke-width="1.8"/>
<line x1="287.80" y1="603.00" x2="287.80" y2="607.60" stroke="#000" stroke-width="1.8"/>
<text transform="translate(272.25,468.00) scale(1.0,1.0)" font-size="14.3" text-anchor="middle" font-weight="normal" font-style="italic">HDAC1</text>
<rect x="245.05" y="512.25" width="8.5" height="8.5" fill="#ad0c3a" stroke="#800024" stroke-width="0.7"/>
<rect x="256.65" y="519.75" width="8.5" height="8.5" fill="#ad0c3a" stroke="#800024" stroke-width="0.7"/>
<rect x="245.15" y="533.45" width="8.5" height="8.5" fill="#ad0c3a" stroke="#800024" stroke-width="0.7"/>
<rect x="256.65" y="533.45" width="8.5" height="8.5" fill="#ad0c3a" stroke="#800024" stroke-width="0.7"/>
<rect x="283.55" y="504.85" width="8.5" height="8.5" fill="#ad0c3a" stroke="#800024" stroke-width="0.7"/>
<rect x="278.45" y="513.35" width="8.5" height="8.5" fill="#ad0c3a" stroke="#800024" stroke-width="0.7"/>
<rect x="288.95" y="522.05" width="8.5" height="8.5" fill="#ad0c3a" stroke="#800024" stroke-width="0.7"/>
<rect x="283.65" y="532.95" width="8.5" height="8.5" fill="#ad0c3a" stroke="#800024" stroke-width="0.7"/>
<line x1="255.10" y1="516.10" x2="255.10" y2="537.60" stroke="#000" stroke-width="1.5"/>
<line x1="249.70" y1="516.10" x2="260.50" y2="516.10" stroke="#000" stroke-width="1.5"/>
<line x1="249.70" y1="537.60" x2="260.50" y2="537.60" stroke="#000" stroke-width="1.5"/>
<line x1="244.10" y1="528.80" x2="266.10" y2="528.80" stroke="#000" stroke-width="1.5"/>
<line x1="287.80" y1="509.20" x2="287.80" y2="537.00" stroke="#000" stroke-width="1.5"/>
<line x1="282.40" y1="509.20" x2="293.20" y2="509.20" stroke="#000" stroke-width="1.5"/>
<line x1="282.40" y1="537.00" x2="293.20" y2="537.00" stroke="#000" stroke-width="1.5"/>
<line x1="276.80" y1="521.90" x2="298.80" y2="521.90" stroke="#000" stroke-width="1.5"/>
<text transform="translate(255.10,622.70) scale(1.1,1.0)" font-size="10.6" text-anchor="middle" font-weight="normal" font-style="normal">Iso</text>
<text transform="translate(287.80,622.70) scale(1.1,1.0)" font-size="10.6" text-anchor="middle" font-weight="normal" font-style="normal">N2</text>
<line x1="329.10" y1="476.10" x2="329.10" y2="603.90" stroke="#000" stroke-width="1.8"/>
<line x1="323.90" y1="603.00" x2="395.60" y2="603.00" stroke="#000" stroke-width="1.8"/>
<line x1="324.20" y1="480.60" x2="329.10" y2="480.60" stroke="#000" stroke-width="1.8"/>
<line x1="324.20" y1="511.30" x2="329.10" y2="511.30" stroke="#000" stroke-width="1.8"/>
<line x1="324.20" y1="541.80" x2="329.10" y2="541.80" stroke="#000" stroke-width="1.8"/>
<line x1="324.20" y1="572.60" x2="329.10" y2="572.60" stroke="#000" stroke-width="1.8"/>
<line x1="345.50" y1="603.00" x2="345.50" y2="607.60" stroke="#000" stroke-width="1.8"/>
<line x1="378.20" y1="603.00" x2="378.20" y2="607.60" stroke="#000" stroke-width="1.8"/>
<text transform="translate(362.65,468.00) scale(1.0,1.0)" font-size="14.3" text-anchor="middle" font-weight="normal" font-style="italic">DTX1</text>
<rect x="374.05" y="497.25" width="8.5" height="8.5" fill="#ad0c3a" stroke="#800024" stroke-width="0.7"/>
<rect x="341.45" y="549.95" width="8.5" height="8.5" fill="#ad0c3a" stroke="#800024" stroke-width="0.7"/>
<rect x="336.55" y="565.55" width="8.5" height="8.5" fill="#ad0c3a" stroke="#800024" stroke-width="0.7"/>
<rect x="346.65" y="566.75" width="8.5" height="8.5" fill="#ad0c3a" stroke="#800024" stroke-width="0.7"/>
<rect x="369.05" y="567.25" width="8.5" height="8.5" fill="#ad0c3a" stroke="#800024" stroke-width="0.7"/>
<rect x="379.35" y="570.95" width="8.5" height="8.5" fill="#ad0c3a" stroke="#800024" stroke-width="0.7"/>
<rect x="374.25" y="583.05" width="8.5" height="8.5" fill="#ad0c3a" stroke="#800024" stroke-width="0.7"/>
<rect x="341.45" y="592.35" width="8.5" height="8.5" fill="#ad0c3a" stroke="#800024" stroke-width="0.7"/>
<line x1="345.50" y1="553.80" x2="345.50" y2="596.40" stroke="#000" stroke-width="1.5"/>
<line x1="340.10" y1="553.80" x2="350.90" y2="553.80" stroke="#000" stroke-width="1.5"/>
<line x1="340.10" y1="596.40" x2="350.90" y2="596.40" stroke="#000" stroke-width="1.5"/>
<line x1="334.50" y1="573.10" x2="356.50" y2="573.10" stroke="#000" stroke-width="1.5"/>
<line x1="378.20" y1="501.50" x2="378.20" y2="586.90" stroke="#000" stroke-width="1.5"/>
<line x1="372.80" y1="501.50" x2="383.60" y2="501.50" stroke="#000" stroke-width="1.5"/>
<line x1="372.80" y1="586.90" x2="383.60" y2="586.90" stroke="#000" stroke-width="1.5"/>
<line x1="367.20" y1="559.20" x2="389.20" y2="559.20" stroke="#000" stroke-width="1.5"/>
<text transform="translate(345.50,622.70) scale(1.1,1.0)" font-size="10.6" text-anchor="middle" font-weight="normal" font-style="normal">Iso</text>
<text transform="translate(378.20,622.70) scale(1.1,1.0)" font-size="10.6" text-anchor="middle" font-weight="normal" font-style="normal">N2</text>
<line x1="421.10" y1="476.10" x2="421.10" y2="603.90" stroke="#000" stroke-width="1.8"/>
<line x1="415.90" y1="603.00" x2="487.60" y2="603.00" stroke="#000" stroke-width="1.8"/>
<line x1="416.20" y1="480.60" x2="421.10" y2="480.60" stroke="#000" stroke-width="1.8"/>
<line x1="416.20" y1="511.30" x2="421.10" y2="511.30" stroke="#000" stroke-width="1.8"/>
<line x1="416.20" y1="541.80" x2="421.10" y2="541.80" stroke="#000" stroke-width="1.8"/>
<line x1="416.20" y1="572.60" x2="421.10" y2="572.60" stroke="#000" stroke-width="1.8"/>
<line x1="437.50" y1="603.00" x2="437.50" y2="607.60" stroke="#000" stroke-width="1.8"/>
<line x1="470.20" y1="603.00" x2="470.20" y2="607.60" stroke="#000" stroke-width="1.8"/>
<text transform="translate(454.65,468.00) scale(1.0,1.0)" font-size="14.3" text-anchor="middle" font-weight="normal" font-style="italic">DTX4</text>
<rect x="439.05" y="488.45" width="8.5" height="8.5" fill="#ad0c3a" stroke="#800024" stroke-width="0.7"/>
<rect x="428.35" y="495.35" width="8.5" height="8.5" fill="#ad0c3a" stroke="#800024" stroke-width="0.7"/>
<rect x="433.55" y="521.75" width="8.5" height="8.5" fill="#ad0c3a" stroke="#800024" stroke-width="0.7"/>
<rect x="433.45" y="550.75" width="8.5" height="8.5" fill="#ad0c3a" stroke="#800024" stroke-width="0.7"/>
<rect x="466.05" y="499.55" width="8.5" height="8.5" fill="#ad0c3a" stroke="#800024" stroke-width="0.7"/>
<rect x="460.95" y="526.55" width="8.5" height="8.5" fill="#ad0c3a" stroke="#800024" stroke-width="0.7"/>
<rect x="471.75" y="534.95" width="8.5" height="8.5" fill="#ad0c3a" stroke="#800024" stroke-width="0.7"/>
<rect x="466.05" y="564.35" width="8.5" height="8.5" fill="#ad0c3a" stroke="#800024" stroke-width="0.7"/>
<line x1="437.50" y1="492.30" x2="437.50" y2="554.90" stroke="#000" stroke-width="1.5"/>
<line x1="432.10" y1="492.30" x2="442.90" y2="492.30" stroke="#000" stroke-width="1.5"/>
<line x1="432.10" y1="554.90" x2="442.90" y2="554.90" stroke="#000" stroke-width="1.5"/>
<line x1="426.50" y1="518.30" x2="448.50" y2="518.30" stroke="#000" stroke-width="1.5"/>
<line x1="470.20" y1="503.80" x2="470.20" y2="568.50" stroke="#000" stroke-width="1.5"/>
<line x1="464.80" y1="503.80" x2="475.60" y2="503.80" stroke="#000" stroke-width="1.5"/>
<line x1="464.80" y1="568.50" x2="475.60" y2="568.50" stroke="#000" stroke-width="1.5"/>
<line x1="459.20" y1="534.60" x2="481.20" y2="534.60" stroke="#000" stroke-width="1.5"/>
<text transform="translate(437.50,622.70) scale(1.1,1.0)" font-size="10.6" text-anchor="middle" font-weight="normal" font-style="normal">Iso</text>
<text transform="translate(470.20,622.70) scale(1.1,1.0)" font-size="10.6" text-anchor="middle" font-weight="normal" font-style="normal">N2</text>
<text transform="translate(61.80,622.70) scale(1.1,1.0)" font-size="10.6" text-anchor="end" font-weight="normal" font-style="normal">mAb:</text>
</svg>
</div></body></html>
